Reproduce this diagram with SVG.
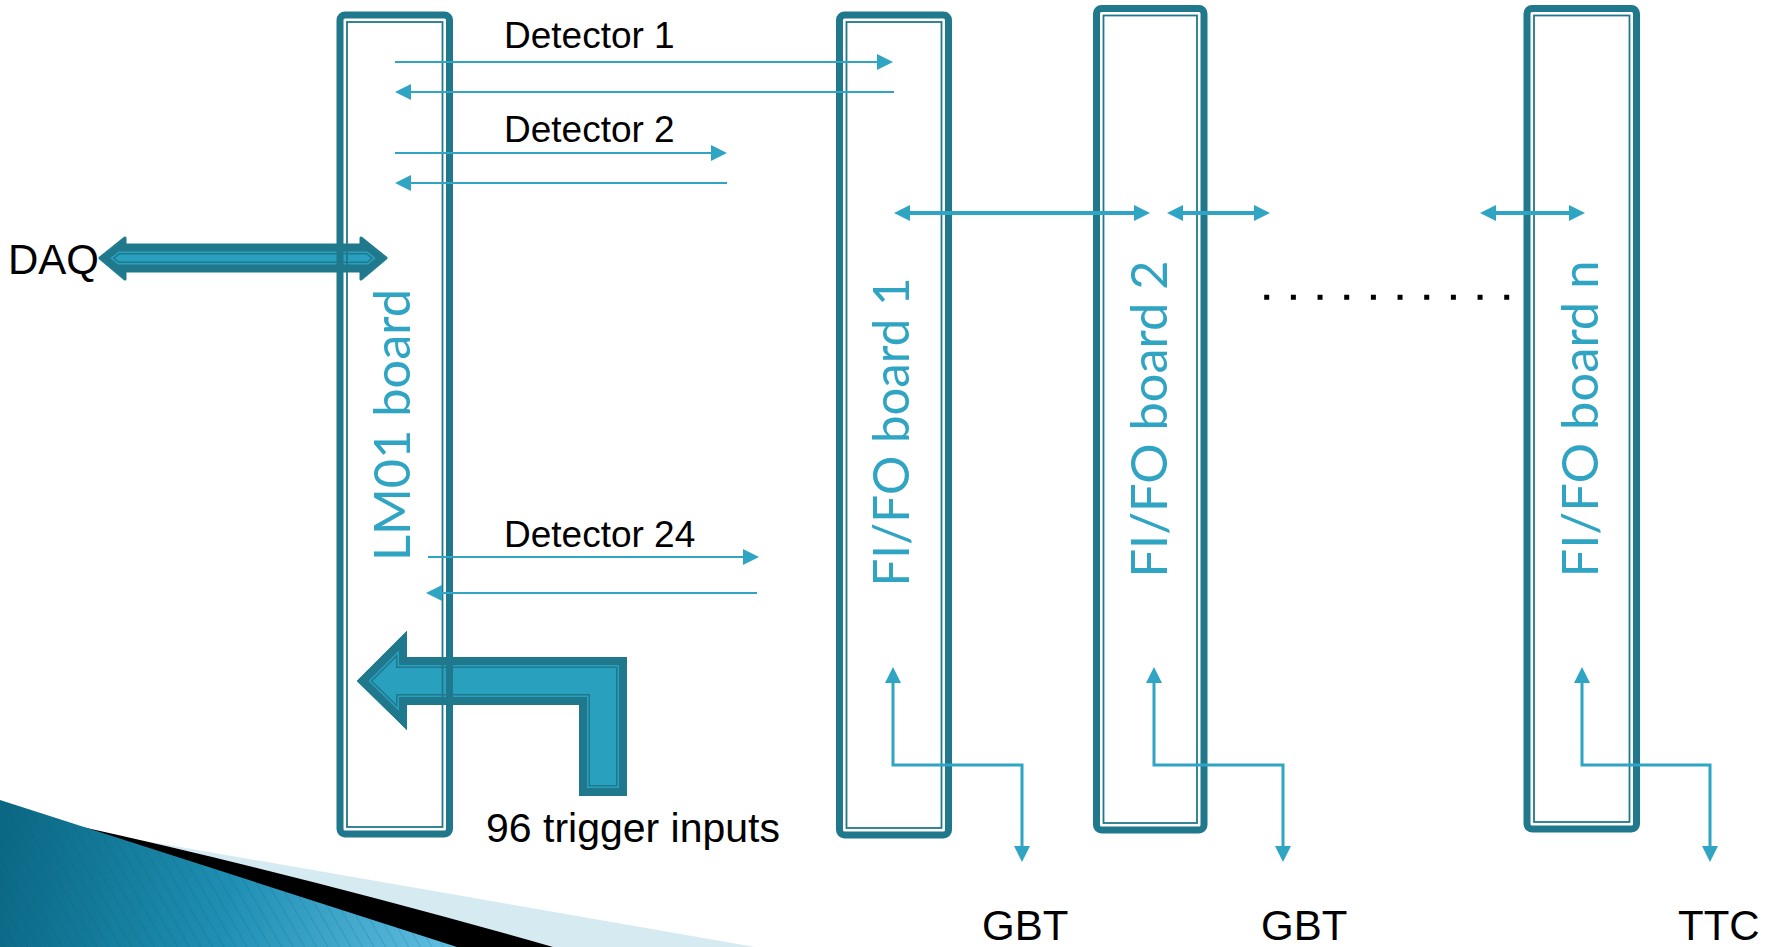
<svg xmlns="http://www.w3.org/2000/svg" width="1777" height="947" viewBox="0 0 1777 947">
<defs>
<style>
.board{fill:none;stroke:#20788C;stroke-width:7}
.inner{fill:none;stroke:#20788C;stroke-width:1.8}
.lbl{font-family:Lato,"Open Sans",sans-serif;font-size:50px;fill:#2FA4C3}
.txt{font-family:"Liberation Sans",Arial,sans-serif;fill:#000}
.thin{fill:none;stroke:#2FA4C3;stroke-width:2}
.bus{fill:none;stroke:#2FA4C3;stroke-width:4}
.ext{fill:none;stroke:#2FA4C3;stroke-width:3;stroke-linejoin:miter}
</style>
<marker id="ah" markerUnits="userSpaceOnUse" markerWidth="16" markerHeight="16" viewBox="0 0 16 16" refX="0" refY="8" orient="auto-start-reverse">
<path d="M0,0 L16,8 L0,16 Z" fill="#2FA4C3"/>
</marker>
<linearGradient id="blueGrad" gradientUnits="userSpaceOnUse" x1="0" y1="850" x2="457" y2="947">
<stop offset="0" stop-color="#0B6884"/>
<stop offset="0.5" stop-color="#1E8FB3"/>
<stop offset="1" stop-color="#62BFE2"/>
</linearGradient>
<pattern id="stripes" width="10" height="10" patternUnits="userSpaceOnUse" patternTransform="rotate(-30)">
<line x1="0" y1="0" x2="0" y2="10" stroke="#0A5470" stroke-width="1.2" opacity="0.35"/>
</pattern>
<path id="daqShape" d="M100,258 L125,238 L125,245 L361,245 L361,238 L386,258 L361,279 L361,271 L125,271 L125,279 Z"/>
<path id="trigShape" d="M357,681 L407,631 L407,657 L627,657 L627,796 L579,796 L579,705 L407,705 L407,730 Z"/>
<clipPath id="daqClip"><use href="#daqShape"/></clipPath>
<clipPath id="trigClip"><use href="#trigShape"/></clipPath>
</defs>
<rect width="1777" height="947" fill="#fff"/>

<g id="decoration">
<path d="M100,833 L755,947 L100,947 Z" fill="#D6EAF2"/>
<path d="M80,826.6 Q300,875 553,947 L80,947 Z" fill="#000"/>
<path d="M0,800 L457,947 L0,947 Z" fill="url(#blueGrad)"/>
<path d="M0,800 L457,947 L0,947 Z" fill="url(#stripes)"/>
</g>

<g id="block-arrows">
<g id="daq-arrow">
<use href="#daqShape" fill="#2AA0BF" stroke="#20788C" stroke-width="3" stroke-linejoin="round"/>
<g clip-path="url(#daqClip)" fill="none">
<use href="#daqShape" stroke="#20788C" stroke-width="19"/>
<use href="#daqShape" stroke="#2AA0BF" stroke-width="16"/>
<use href="#daqShape" stroke="#20788C" stroke-width="13"/>
</g>
</g>
<g id="trigger-arrow">
<use href="#trigShape" fill="#2AA0BF"/>
<g clip-path="url(#trigClip)" fill="none">
<use href="#trigShape" stroke="#20788C" stroke-width="22"/>
<use href="#trigShape" stroke="#2AA0BF" stroke-width="19"/>
<use href="#trigShape" stroke="#20788C" stroke-width="16"/>
</g>
</g>
</g>

<g id="lm01">
<rect class="board" x="340" y="15" width="109.5" height="819" rx="5"/>
<rect class="inner" x="347" y="22" width="95.5" height="805"/>
<text class="lbl" transform="translate(410,425) rotate(-90)" text-anchor="middle" textLength="272" lengthAdjust="spacingAndGlyphs">LM01 board</text>
</g>
<g id="fifo1">
<rect class="board" x="839.5" y="15" width="109" height="820" rx="5"/>
<rect class="inner" x="846.5" y="22" width="95" height="806"/>
<text class="lbl" transform="translate(909,432) rotate(-90)" text-anchor="middle" textLength="309" lengthAdjust="spacingAndGlyphs">FI/FO board 1</text>
</g>
<g id="fifo2">
<rect class="board" x="1096.5" y="8.5" width="107.5" height="821.5" rx="5"/>
<rect class="inner" x="1103.5" y="15.5" width="93.5" height="807.5"/>
<text class="lbl" transform="translate(1167,419) rotate(-90)" text-anchor="middle" textLength="317" lengthAdjust="spacingAndGlyphs">FI/FO board 2</text>
</g>
<g id="fifon">
<rect class="board" x="1527" y="8.5" width="109.5" height="820.5" rx="5"/>
<rect class="inner" x="1534" y="15.5" width="95.5" height="806.5"/>
<text class="lbl" transform="translate(1598,419) rotate(-90)" text-anchor="middle" textLength="317" lengthAdjust="spacingAndGlyphs">FI/FO board n</text>
</g>

<g id="connectors">
<path class="thin" d="M395,62 H877" marker-end="url(#ah)"/>
<path class="thin" d="M894,92 H411" marker-end="url(#ah)"/>
<path class="thin" d="M395,153 H711" marker-end="url(#ah)"/>
<path class="thin" d="M727,183 H411" marker-end="url(#ah)"/>
<path class="thin" d="M428,557 H743" marker-end="url(#ah)"/>
<path class="thin" d="M757,593 H442" marker-end="url(#ah)"/>
<path class="bus" d="M910,213 H1134" marker-start="url(#ah)" marker-end="url(#ah)"/>
<path class="bus" d="M1183,213 H1254" marker-start="url(#ah)" marker-end="url(#ah)"/>
<path class="bus" d="M1496,213 H1569" marker-start="url(#ah)" marker-end="url(#ah)"/>
<path class="ext" d="M1022,846 V765 H893 V683" marker-start="url(#ah)" marker-end="url(#ah)"/>
<path class="ext" d="M1283,846 V765 H1154 V683" marker-start="url(#ah)" marker-end="url(#ah)"/>
<path class="ext" d="M1710,846 V765 H1582 V683" marker-start="url(#ah)" marker-end="url(#ah)"/>
</g>

<g id="ellipsis">
<line x1="1264.2" y1="297.3" x2="1509.2" y2="297.3" stroke="#000" stroke-width="5" stroke-dasharray="5 21.67"/>
</g>

<g id="labels">
<text class="txt" x="504" y="48" font-size="37">Detector 1</text>
<text class="txt" x="504" y="142" font-size="37">Detector 2</text>
<text class="txt" x="504" y="547" font-size="37">Detector 24</text>
<text class="txt" x="8" y="274" font-size="42">DAQ</text>
<text class="txt" x="486" y="842" font-size="41">96 trigger inputs</text>
<text class="txt" x="982" y="940" font-size="42">GBT</text>
<text class="txt" x="1261" y="940" font-size="42">GBT</text>
<text class="txt" x="1678" y="940" font-size="42">TTC</text>
</g>
</svg>
